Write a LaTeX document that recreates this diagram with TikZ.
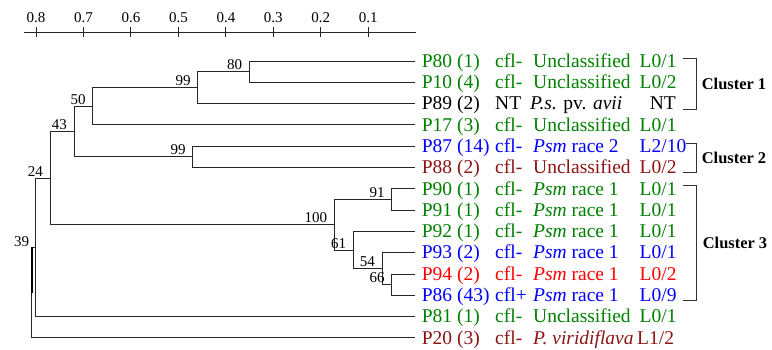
\documentclass[tikz,border=0pt]{standalone}
\usepackage{fontspec}
\setmainfont{Liberation Serif}
\definecolor{cgreen}{RGB}{0,128,0}
\definecolor{cdred}{RGB}{140,20,20}
\definecolor{cblue}{RGB}{0,0,255}
\definecolor{cred}{RGB}{255,0,0}
\newcommand\leafrow[6]{%
  \coordinate (l#1) at (415,{61+21.3*#1});
  \node[leaf,text=#2] (ta#1) at (421.7,{67.2+21.3*#1}) {#3};
  \node[leaf,text=#2] (tb#1) at (495,{67.2+21.3*#1}) {#4};
  \node[leaf,text=#2] (tc#1) at (533,{67.2+21.3*#1}) {#5};
  \node[leaf,text=#2] (td#1) at (639.5,{67.2+21.3*#1}) {#6};
}
\newcommand\bootlab[3]{%
  \node[boot] (#1) at ([xshift=-7pt,yshift=2pt]#2) {#3};
}
\begin{document}
\begin{tikzpicture}[x=1pt,y=-1pt,
  edge/.style={line width=0.9pt, draw=black!85},
  boot/.style={font=\fontsize{15}{15}\selectfont, anchor=base east, inner sep=0pt},
  leaf/.style={font=\fontsize{19.5}{20}\selectfont, anchor=base west, inner sep=0pt},
  axlab/.style={font=\fontsize{15}{15}\selectfont, anchor=base, inner sep=0pt},
  clab/.style={font=\fontsize{16.4}{17}\selectfont\bfseries, anchor=west, inner sep=0pt},
  brk/.style={line width=0.9pt, draw=black!80}]
\useasboundingbox (0,0) rectangle (772,349);

% scale axis
\coordinate (axL) at (24,32);
\coordinate (axR) at (416,32);
\draw[edge] (axL) -- (axR);
\foreach \v [count=\k from 0] in {0.8,0.7,0.6,0.5,0.4,0.3,0.2,0.1}{
  \coordinate (tk\k) at ({36+47.47*\k},32);
  \draw[edge] ([yshift=5pt]tk\k) -- ([yshift=-5pt]tk\k);
  \node[axlab] (ax\k) at ({36+47.47*\k},22.3) {\v};
}

% leaves
\leafrow{0}{cgreen}{P80 (1)}{cfl-}{Unclassified}{L0/1}
\leafrow{1}{cgreen}{P10 (4)}{cfl-}{Unclassified}{L0/2}
\coordinate (l2) at (415,103.6);
\node[leaf,text=black] (ta2) at (421.7,109.8) {P89 (2)};
\node[leaf,text=black] (tb2) at (495,109.8) {NT};
\node[leaf,text=black] (tc2) at (530,109.8) {\textit{P.s.} pv. \textit{avii}};
\node[leaf,text=black,anchor=base east] (td2) at (676,109.8) {NT};
\leafrow{3}{cgreen}{P17 (3)}{cfl-}{Unclassified}{L0/1}
\leafrow{4}{cblue}{P87 (14)}{cfl-}{\textit{Psm} race 2}{L2/10}
\leafrow{5}{cdred}{P88 (2)}{cfl-}{Unclassified}{L0/2}
\leafrow{6}{cgreen}{P90 (1)}{cfl-}{\textit{Psm} race 1}{L0/1}
\leafrow{7}{cgreen}{P91 (1)}{cfl-}{\textit{Psm} race 1}{L0/1}
\leafrow{8}{cgreen}{P92 (1)}{cfl-}{\textit{Psm} race 1}{L0/1}
\leafrow{9}{cblue}{P93 (2)}{cfl-}{\textit{Psm} race 1}{L0/1}
\leafrow{10}{cred}{P94 (2)}{cfl-}{\textit{Psm} race 1}{L0/2}
\leafrow{11}{cblue}{P86 (43)}{cfl+}{\textit{Psm} race 1}{L0/9}
\leafrow{12}{cgreen}{P81 (1)}{cfl-}{Unclassified}{L0/1}
\coordinate (l13) at (415,337.9);
\node[leaf,text=cdred] (ta13) at (421.7,344.1) {P20 (3)};
\node[leaf,text=cdred] (tb13) at (495,344.1) {cfl-};
\node[leaf,text=cdred] (tc13) at (533,344.1) {\textit{P. viridiflava}};
\node[leaf,text=cdred] (td13) at (637,344.1) {L1/2};

% internal nodes
\coordinate (n80) at (249.3,71.65);
\coordinate (n99a) at (197.7,87.6);
\coordinate (n50) at (92.7,106.3);
\coordinate (n99b) at (192.7,156.85);
\coordinate (n43) at (74,131.6);
\coordinate (n91) at (391.7,199.45);
\coordinate (n66) at (391.7,284.65);
\coordinate (n54) at (382,268.7);
\coordinate (n61) at (353.3,250.05);
\coordinate (n100) at (334.3,224.75);
\coordinate (n24) at (50,178.2);
\coordinate (nA) at (35.7,247.4);
\coordinate (n39) at (31.7,292.65);

\draw[edge] (n80) |- (l0) (n80) |- (l1);
\draw[edge] (n99a) |- (n80) (n99a) |- (l2);
\draw[edge] (n50) |- (n99a) (n50) |- (l3);
\draw[edge] (n99b) |- (l4) (n99b) |- (l5);
\draw[edge] (n43) |- (n50) (n43) |- (n99b);
\draw[edge] (n91) |- (l6) (n91) |- (l7);
\draw[edge] (n66) |- (l10) (n66) |- (l11);
\draw[edge] (n54) |- (l9) (n54) |- (n66);
\draw[edge] (n61) |- (l8) (n61) |- (n54);
\draw[edge] (n100) |- (n91) (n100) |- (n61);
\draw[edge] (n24) |- (n43) (n24) |- (n100);
\draw[edge] (nA) |- (n24) (nA) |- (l12);
\draw[edge] (n39) |- (nA) (n39) |- (l13);
\draw[line width=1.6pt] (n39) -- (n39 |- nA);

% bootstrap values
\bootlab{b80}{n80}{80}
\bootlab{b99a}{n99a}{99}
\bootlab{b50}{n50}{50}
\bootlab{b43}{n43}{43}
\bootlab{b99b}{n99b}{99}
\bootlab{b24}{n24}{24}
\bootlab{b100}{n100}{100}
\bootlab{b91}{n91}{91}
\bootlab{b61}{n61}{61}
\bootlab{b54}{n54}{54}
\bootlab{b66}{n66}{66}
\node[boot] (b39) at (29.3,246.7) {39};

% cluster brackets
\coordinate (c1a) at (682.7,58.3);  \coordinate (c1b) at (682.7,109.3);
\coordinate (c2a) at (686,143.3);   \coordinate (c2b) at (682.7,172.7);
\coordinate (c3a) at (683.3,185.3); \coordinate (c3b) at (683.3,300.7);
\draw[brk] (c1a) -- (696,58.3) -- (696,109.3) -- (c1b);
\draw[brk] (c2a) -- (696,143.3) -- (696,172.7) -- (c2b);
\draw[brk] (c3a) -- (696,185.3) -- (696,300.7) -- (c3b);
\node[clab] (cl1) at (701.7,83.8) {Cluster 1};
\node[clab] (cl2) at (701.7,158) {Cluster 2};
\node[clab] (cl3) at (702.7,243) {Cluster 3};
\end{tikzpicture}
\end{document}
